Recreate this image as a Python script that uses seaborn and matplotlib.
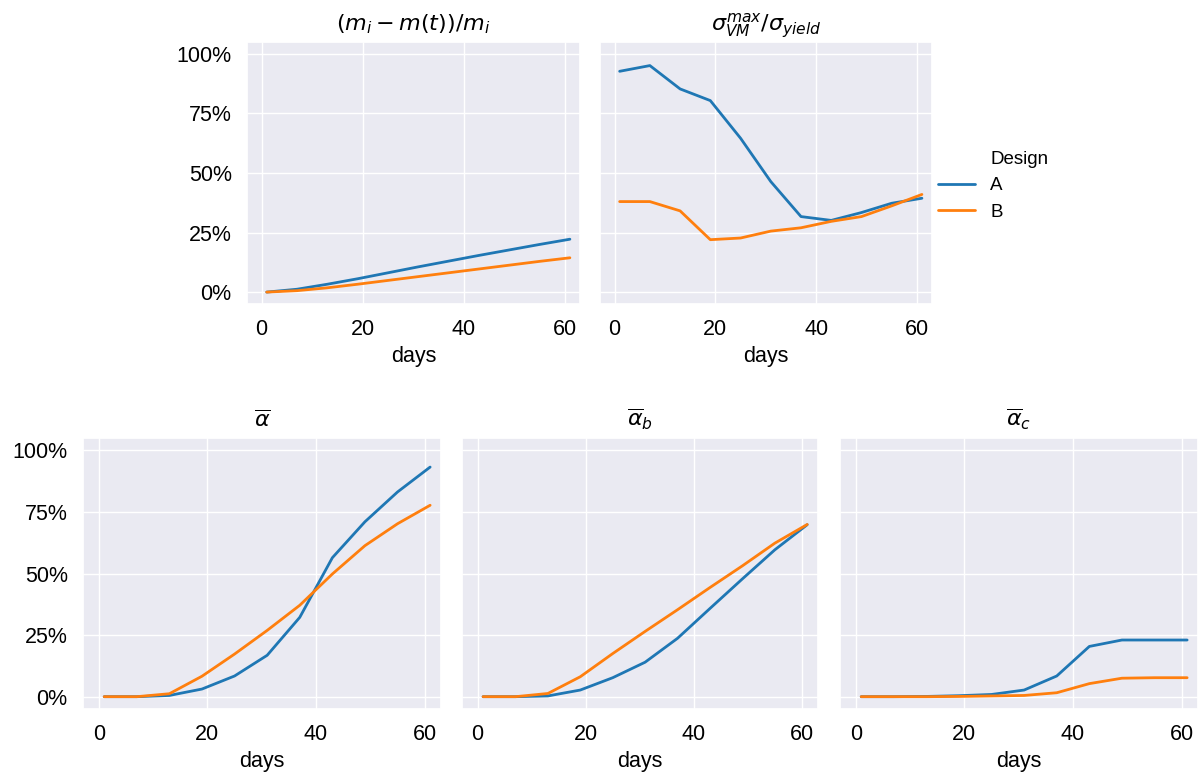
import numpy as np
import pandas as pd
import matplotlib
matplotlib.use("Agg")
import matplotlib.pyplot as plt
import seaborn as sns
from matplotlib.lines import Line2D
from matplotlib.ticker import PercentFormatter

sns.set_theme(style="darkgrid")
plt.rcParams['font.family'] = ['Liberation Sans', 'DejaVu Sans']
plt.rcParams['mathtext.fontset'] = 'dejavusans'
plt.rcParams['text.color'] = 'black'
plt.rcParams['axes.labelcolor'] = 'black'
plt.rcParams['xtick.color'] = 'black'
plt.rcParams['ytick.color'] = 'black'

days = [1, 7, 13, 19, 25, 31, 37, 43, 49, 55, 61]
designs = ["A", "B"]

mass_A = [0.0, 1.2, 3.3, 5.6, 8.1, 10.6, 13.0, 15.4, 17.7, 20.0, 22.2]
mass_B = [0.0, 0.6, 1.8, 3.3, 4.9, 6.5, 8.1, 9.7, 11.3, 12.9, 14.4]

stress_A = [92.7, 95.1, 85.3, 80.4, 64.6, 46.4, 31.7, 30.1, 33.4, 37.3, 39.4]
stress_B = [38.0, 38.0, 34.1, 22.0, 22.7, 25.6, 27.0, 29.7, 31.7, 36.2, 41.0]

alpha_A = [0.0, 0.0, 0.5, 3.1, 8.4, 16.8, 32.2, 56.4, 71.0, 83.1, 93.2]
alpha_B = [0.0, 0.0, 1.2, 8.3, 17.3, 26.9, 37.1, 49.8, 61.3, 70.2, 77.7]

alpha_b_A = [0.0, 0.0, 0.3, 2.7, 7.7, 14.0, 23.7, 35.8, 47.8, 59.6, 69.8]
alpha_b_B = [0.0, 0.0, 1.3, 8.1, 17.5, 26.5, 35.3, 44.3, 53.1, 62.3, 69.9]

alpha_c_A = [0.0, 0.0, 0.1, 0.4, 0.9, 2.7, 8.4, 20.4, 23.0, 23.0, 23.0]
alpha_c_B = [0.0, 0.0, 0.0, 0.1, 0.3, 0.5, 1.6, 5.3, 7.5, 7.7, 7.7]

titles = [r"$(m_i - m(t))/m_i$", r"$\sigma_{VM}^{max}/\sigma_{yield}$",
          r"$\overline{\alpha}$", r"$\overline{\alpha}_b$", r"$\overline{\alpha}_c$"]
series = [(mass_A, mass_B), (stress_A, stress_B), (alpha_A, alpha_B),
          (alpha_b_A, alpha_b_B), (alpha_c_A, alpha_c_B)]


def make_df(a, b):
    return pd.DataFrame({
        "days": days + days,
        "value": [v / 100 for v in a] + [v / 100 for v in b],
        "Design": ["A"] * len(days) + ["B"] * len(days),
    })


W, H = 1202, 772
fig = plt.figure(figsize=(W / 100, H / 100), dpi=100)


def add_ax(x0, y0, x1, y1):
    return fig.add_axes([x0 / W, 1 - y1 / H, (x1 - x0) / W, (y1 - y0) / H])


boxes = [(247, 42, 580, 304), (600, 42, 932, 304),
         (83, 438, 441, 709), (462, 438, 818, 709), (840, 438, 1198, 709)]
palette = {"A": "#1f77b4", "B": "#ff7f0e"}

axes = []
for i, (box, (a, b), t) in enumerate(zip(boxes, series, titles)):
    ax = add_ax(*box)
    sns.lineplot(data=make_df(a, b), x="days", y="value", hue="Design",
                 palette=palette, ax=ax, legend=False, linewidth=2)
    ax.set_xlim(-2.9, 63)
    ax.set_ylim(-0.05, 1.05)
    ax.set_xticks([0, 20, 40, 60])
    ax.set_yticks([0, 0.25, 0.5, 0.75, 1.0])
    ax.yaxis.set_major_formatter(PercentFormatter(1.0, decimals=0))
    ax.set_title(t, fontsize=16, pad=8)
    ax.set_xlabel("days", fontsize=15.5, labelpad=4)
    ax.set_ylabel("")
    ax.tick_params(labelsize=15.5, pad=5)
    if i in (1, 3, 4):
        ax.set_yticklabels([])
    axes.append(ax)

handles = [Line2D([], [], linestyle="none"),
           Line2D([], [], color=palette["A"], linewidth=2),
           Line2D([], [], color=palette["B"], linewidth=2)]
labels = ["Design", "A", "B"]
leg = fig.legend(handles, labels, loc="upper left",
                 bbox_to_anchor=(921 / W, 1 - 134 / H), frameon=False,
                 fontsize=13.5, handlelength=2.0)

fig.savefig("out.png", dpi=100)
